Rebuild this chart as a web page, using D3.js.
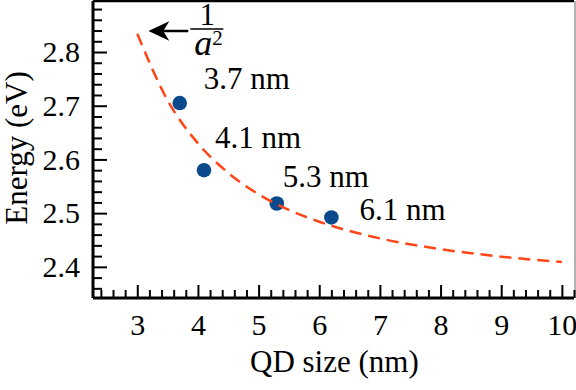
<!DOCTYPE html>
<html>
<head>
<meta charset="utf-8">
<script src="https://cdn.jsdelivr.net/npm/d3@7"></script>
<style>
  body { margin: 0; background: #fff; }
</style>
</head>
<body>
<div id="chart"></div>
<script>
// measured QD sizes (nm) and energies (eV)
var qdSize = [3.7, 4.1, 5.3, 6.2];
var qdEnergy = [2.705, 2.58, 2.518, 2.492];
var qdLabels = ["3.7 nm", "4.1 nm", "5.3 nm", "6.1 nm"];

// dashed 1/a^2 guide
var fitSize = [3, 3.5, 4, 4.5, 5, 5.5, 6, 7, 8, 9, 10];
var fitEnergy = [2.834, 2.710, 2.630, 2.575, 2.535, 2.506, 2.484, 2.453, 2.433, 2.419, 2.409];

var xTicks = [3, 4, 5, 6, 7, 8, 9, 10];
var yTicks = [2.4, 2.5, 2.6, 2.7, 2.8];

var serif = "'Liberation Serif', 'Times New Roman', Times, serif";

var W = 576, H = 390;
var margin = {top: 1, right: 2, bottom: 92, left: 93};
var width = W - margin.left - margin.right,
    height = H - margin.top - margin.bottom;

var svg = d3.select("#chart").append("svg")
    .attr("width", W)
    .attr("height", H)
    .attr("font-family", serif)
  .append("g")
    .attr("transform", "translate(" + margin.left + "," + margin.top + ")");

var x = d3.scaleLinear().domain([2.27, 10.2]).range([0, width]);
var y = d3.scaleLinear().domain([2.342, 2.895]).range([height, 0]);

// frame: top + right thin, left + bottom heavy
svg.append("line")
    .attr("x1", 0).attr("x2", width)
    .attr("y1", 0).attr("y2", 0)
    .attr("stroke", "#000").attr("stroke-width", 2.5);
svg.append("line")
    .attr("x1", width + 1).attr("x2", width + 1)
    .attr("y1", 0).attr("y2", height)
    .attr("stroke", "#999").attr("stroke-width", 1.5);

// minor ticks
var xMinor = d3.range(2.4, 10.21, 0.2).filter(function(v) {
  return Math.abs(v - Math.round(v)) > 0.01;
});
var yMinor = d3.range(2.36, 2.895, 0.02).filter(function(v) {
  return Math.abs(v * 10 - Math.round(v * 10)) > 0.01;
});

var xAxis = svg.append("g")
    .attr("transform", "translate(0," + height + ")");
xAxis.call(d3.axisBottom(x).tickValues(xMinor).tickSize(-8).tickFormat(""));
xAxis.call(function(g) {
  g.append("g").call(d3.axisBottom(x).tickValues(xTicks).tickSize(-13).tickFormat(d3.format("d")));
});
xAxis.selectAll("line").attr("stroke", "#000").attr("stroke-width", 2);
xAxis.selectAll("path.domain").remove();
xAxis.selectAll("g").attr("font-family", serif);
xAxis.selectAll("text")
    .attr("y", 37).attr("dy", null)
    .style("font-family", serif)
    .style("font-size", "30px");

var yAxis = svg.append("g");
yAxis.call(d3.axisLeft(y).tickValues(yMinor).tickSize(-9).tickFormat(""));
yAxis.call(function(g) {
  g.append("g").call(d3.axisLeft(y).tickValues(yTicks).tickSize(-14).tickFormat(d3.format(".1f")));
});
yAxis.selectAll("line").attr("stroke", "#000").attr("stroke-width", 2);
yAxis.selectAll("path.domain").remove();
yAxis.selectAll("g").attr("font-family", serif);
yAxis.selectAll("text")
    .attr("x", -13)
    .style("font-family", serif)
    .style("font-size", "30px");

// heavy axis lines
svg.append("line")
    .attr("x1", 0).attr("x2", width)
    .attr("y1", height).attr("y2", height)
    .attr("stroke", "#000").attr("stroke-width", 3);
svg.append("line")
    .attr("x1", 0).attr("x2", 0)
    .attr("y1", 0).attr("y2", height)
    .attr("stroke", "#000").attr("stroke-width", 3);

// axis titles
svg.append("text")
    .attr("x", x(6.25)).attr("y", height + 74)
    .attr("text-anchor", "middle")
    .style("font-family", serif)
    .style("font-size", "31px")
    .text("QD size (nm)");

svg.append("text")
    .attr("transform", "translate(" + (27 - margin.left) + "," + (148 - margin.top) + ") rotate(-90)")
    .attr("text-anchor", "middle")
    .style("font-family", serif)
    .style("font-size", "31px")
    .text("Energy (eV)");

// points
svg.selectAll("circle.pt")
    .data(qdSize)
  .enter().append("circle")
    .attr("class", "pt")
    .attr("cx", function(d) { return x(d); })
    .attr("cy", function(d, i) { return y(qdEnergy[i]); })
    .attr("r", 7.3)
    .attr("fill", "#0a4a8c");

// dashed guide over the points
var line = d3.line()
    .x(function(d, i) { return x(fitSize[i]); })
    .y(function(d) { return y(d); })
    .curve(d3.curveMonotoneX);
svg.append("path")
    .attr("d", line(fitEnergy))
    .attr("fill", "none")
    .attr("stroke", "#ff4516")
    .attr("stroke-width", 2.5)
    .attr("stroke-dasharray", "12,7");

// point labels
var labelOffset = [[24, -14], [11, -22], [6, -16], [28, 3]];
svg.selectAll("text.lbl")
    .data(qdLabels)
  .enter().append("text")
    .attr("class", "lbl")
    .attr("x", function(d, i) { return x(qdSize[i]) + labelOffset[i][0]; })
    .attr("y", function(d, i) { return y(qdEnergy[i]) + labelOffset[i][1]; })
    .style("font-family", serif)
    .style("font-size", "31px")
    .text(function(d) { return d; });

// 1/a^2 annotation with arrow (tip just right of the curve start)
var ann = svg.append("g")
    .attr("transform", "translate(" + (x(3) + 13) + "," + (31 - margin.top) + ")");
ann.append("line")
    .attr("x1", 10).attr("x2", 38)
    .attr("y1", 0).attr("y2", 0)
    .attr("stroke", "#000").attr("stroke-width", 2.5);
ann.append("path")
    .attr("d", "M0,0 L17,-8 L12,0 L17,8 Z")
    .attr("fill", "#000")
    .attr("stroke", "#000").attr("stroke-width", 1.5)
    .attr("stroke-linejoin", "miter");
ann.append("line")
    .attr("x1", 40).attr("x2", 73)
    .attr("y1", -2).attr("y2", -2)
    .attr("stroke", "#000").attr("stroke-width", 1.5);
ann.append("text")
    .attr("x", 57).attr("y", -6)
    .attr("text-anchor", "middle")
    .style("font-family", serif)
    .style("font-size", "31px")
    .text("1");
var den = ann.append("text")
    .attr("x", 44).attr("y", 24)
    .style("font-family", serif)
    .style("font-size", "36px");
den.append("tspan").style("font-style", "italic").text("a");
den.append("tspan").attr("dy", -10).style("font-size", "21px").text("2");
</script>
</body>
</html>
